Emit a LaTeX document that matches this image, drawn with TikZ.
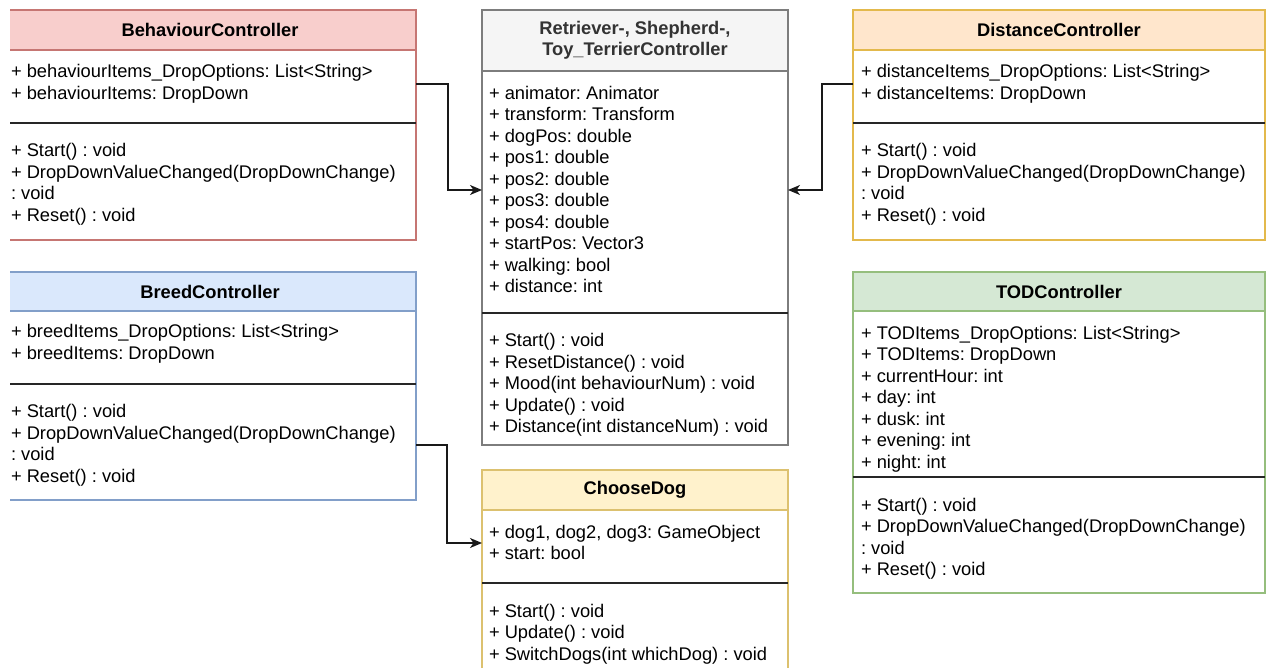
\documentclass[tikz,border=0pt]{standalone}
\usepackage{fontspec}
\setmainfont{Liberation Sans}
\usetikzlibrary{arrows.meta}

\definecolor{behf}{HTML}{F8CECC}\definecolor{behb}{HTML}{B85450}\colorlet{behd}{behb!80!white}
\definecolor{disf}{HTML}{FFE6CC}\definecolor{disb}{HTML}{D79B00}\colorlet{disd}{disb!70!white}
\definecolor{brdf}{HTML}{DAE8FC}\definecolor{brdb}{HTML}{6C8EBF}\colorlet{brdd}{brdb!85!white}
\definecolor{todf}{HTML}{D5E8D4}\definecolor{todb}{HTML}{82B366}\colorlet{todd}{todb!85!white}
\definecolor{chof}{HTML}{FFF2CC}\definecolor{chob}{HTML}{D6B656}\colorlet{chod}{chob!85!white}
\definecolor{cenf}{HTML}{F5F5F5}\definecolor{cenb}{HTML}{666666}\colorlet{cend}{cenb!85!white}
\definecolor{centxt}{HTML}{333333}

\newcommand\memfont{\fontsize{18.3}{21.5}\selectfont\frenchspacing}

\tikzset{
  classbox/.style={draw=#1, fill=white, line width=1.2pt, anchor=north west,
    inner sep=0pt, outer sep=0pt},
  headbox/.style 2 args={draw=#2, fill=#1, line width=1.2pt, anchor=north west,
    inner sep=0pt, outer sep=0pt, font=\memfont\bfseries, align=center},
  members/.style={anchor=north west, inner sep=0pt, outer sep=0pt,
    font=\memfont, align=left},
  sepline/.style={draw=black!85, line width=1.3pt},
  conn/.style={draw=black!90, line width=1.3pt,
    -{Stealth[length=12pt,width=10pt,inset=3.5pt]}},
}

\begin{document}
\begin{tikzpicture}[x=1pt,y=-1pt]
\useasboundingbox (0,0) rectangle (1267,668);
\fill[white] (0,0) rectangle (1267,668);
\begin{scope}
\clip (10,0) rectangle (1267,668);

% ---------------- BehaviourController ----------------
\node[classbox=behd, minimum width=412pt, minimum height=230pt] (beh) at (4,10) {};
\node[headbox={behf}{behd}, minimum width=412pt, minimum height=40pt] (behT) at (4,10) {BehaviourController};
\node[members] (behA) at (11,78-15.05) {\strut+ behaviourItems\_DropOptions: List<String>\\+ behaviourItems: DropDown};
\draw[sepline] (4,123) -- (416,123);
\node[members] (behM) at (11,157-15.05) {\strut+ Start() : void\\+ DropDownValueChanged(DropDownChange)\\: void\\+ Reset() : void};

% ---------------- BreedController ----------------
\node[classbox=brdd, minimum width=412pt, minimum height=228pt] (brd) at (4,272) {};
\node[headbox={brdf}{brdd}, minimum width=412pt, minimum height=39pt] (brdT) at (4,272) {BreedController};
\node[members] (brdA) at (11,338-15.05) {\strut+ breedItems\_DropOptions: List<String>\\+ breedItems: DropDown};
\draw[sepline] (4,384) -- (416,384);
\node[members] (brdM) at (11,417.5-15.05) {\strut+ Start() : void\\+ DropDownValueChanged(DropDownChange)\\: void\\+ Reset() : void};

% ---------------- Retriever-, Shepherd-, Toy_TerrierController ----------------
\node[classbox=cend, minimum width=306pt, minimum height=435pt] (cen) at (482,10) {};
\node[headbox={cenf}{cend}, minimum width=306pt, minimum height=61pt, text=centxt] (cenT) at (482,10) {Retriever-, Shepherd-,\\Toy\_TerrierController};
\node[members] (cenA) at (489,99.5-15.05) {\strut+ animator: Animator\\+ transform: Transform\\+ dogPos: double\\+ pos1: double\\+ pos2: double\\+ pos3: double\\+ pos4: double\\+ startPos: Vector3\\+ walking: bool\\+ distance: int};
\draw[sepline] (482,313) -- (788,313);
\node[members] (cenM) at (489,346.7-15.05) {\strut+ Start() : void\\+ ResetDistance() : void\\+ Mood(int behaviourNum) : void\\+ Update() : void\\+ Distance(int distanceNum) : void};

% ---------------- ChooseDog ----------------
\node[classbox=chod, minimum width=306pt, minimum height=215pt] (cho) at (482,470) {};
\node[headbox={chof}{chod}, minimum width=306pt, minimum height=40pt] (choT) at (482,470) {ChooseDog};
\node[members] (choA) at (489,538-15.05) {\strut+ dog1, dog2, dog3: GameObject\\+ start: bool};
\draw[sepline] (482,583) -- (788,583);
\node[members] (choM) at (489,617-15.05) {\strut+ Start() : void\\+ Update() : void\\+ SwitchDogs(int whichDog) : void};

% ---------------- DistanceController ----------------
\node[classbox=disd, minimum width=412pt, minimum height=230pt] (dis) at (853,10) {};
\node[headbox={disf}{disd}, minimum width=412pt, minimum height=40pt] (disT) at (853,10) {DistanceController};
\node[members] (disA) at (861,78-15.05) {\strut+ distanceItems\_DropOptions: List<String>\\+ distanceItems: DropDown};
\draw[sepline] (853,123) -- (1265,123);
\node[members] (disM) at (861,157-15.05) {\strut+ Start() : void\\+ DropDownValueChanged(DropDownChange)\\: void\\+ Reset() : void};

% ---------------- TODController ----------------
\node[classbox=todd, minimum width=412pt, minimum height=321pt] (tod) at (853,272) {};
\node[headbox={todf}{todd}, minimum width=412pt, minimum height=39pt] (todT) at (853,272) {TODController};
\node[members] (todA) at (861,339-15.05) {\strut+ TODItems\_DropOptions: List<String>\\+ TODItems: DropDown\\+ currentHour: int\\+ day: int\\+ dusk: int\\+ evening: int\\+ night: int};
\draw[sepline] (853,477) -- (1265,477);
\node[members] (todM) at (861,511-15.05) {\strut+ Start() : void\\+ DropDownValueChanged(DropDownChange)\\: void\\+ Reset() : void};

% ---------------- connectors ----------------
\draw[conn] ([yshift=-74pt]beh.north east) -- ++(32,0) |- ([yshift=-180pt]cen.north west);
\draw[conn] ([yshift=-74pt]dis.north west) -- ++(-31,0) |- ([yshift=-180pt]cen.north east);
\draw[conn] ([yshift=-173pt]brd.north east) -- ++(31,0) |- ([yshift=-73pt]cho.north west);

\end{scope}
\end{tikzpicture}
\end{document}
